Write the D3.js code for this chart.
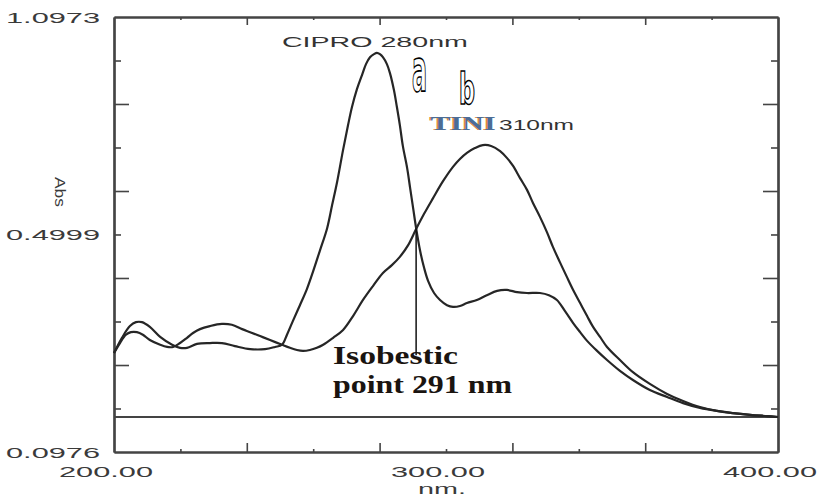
<!DOCTYPE html>
<html>
<head>
<meta charset="utf-8">
<script src="https://cdn.jsdelivr.net/npm/d3@7/dist/d3.min.js"></script>
<style>
	body { margin: 0; background: #fff; }
</style>
</head>
<body>
<div id="chart"></div>
<script>
// CIPRO spectrum (nm / Abs)
const ciproNm = [200.0, 202.4, 204.8, 206.6, 208.4, 210.8, 213.9, 217.5, 219.9, 222.0, 225.0, 228.9, 232.5, 236.4, 241.0, 245.5, 248.5, 250.6, 252.1, 253.9, 256.0, 258.1, 259.9, 262.0, 264.2, 265.7, 267.2, 269.0, 270.5, 271.7, 273.2, 274.7, 275.9, 277.1, 278.3, 279.2, 280.1, 281.0, 282.2, 283.1, 284.3, 285.2, 286.1, 287.0, 288.3, 289.2, 290.1, 291.0, 292.2, 293.4, 294.6, 296.4, 298.2, 300.3, 302.1, 304.2, 306.3, 309.3, 312.3, 315.4, 318.4, 321.4, 324.4, 328.3, 331.0, 333.4, 335.8, 338.3, 340.4, 342.5, 345.5, 348.5, 352.4, 356.3, 361.4, 366.6, 371.4, 376.5, 381.6, 386.4, 391.6, 396.7, 400.0];
const ciproAbs = [0.325, 0.360, 0.387, 0.396, 0.396, 0.385, 0.362, 0.344, 0.337, 0.337, 0.346, 0.348, 0.348, 0.341, 0.334, 0.334, 0.339, 0.344, 0.367, 0.399, 0.435, 0.472, 0.511, 0.560, 0.612, 0.665, 0.718, 0.792, 0.849, 0.891, 0.932, 0.964, 0.989, 1.005, 1.012, 1.015, 1.012, 1.005, 0.989, 0.969, 0.930, 0.891, 0.849, 0.801, 0.750, 0.704, 0.658, 0.612, 0.560, 0.521, 0.491, 0.463, 0.447, 0.435, 0.431, 0.433, 0.440, 0.447, 0.458, 0.468, 0.470, 0.465, 0.463, 0.463, 0.458, 0.447, 0.422, 0.394, 0.373, 0.353, 0.330, 0.309, 0.284, 0.263, 0.240, 0.224, 0.210, 0.199, 0.192, 0.187, 0.183, 0.180, 0.178];

// TINI spectrum (nm / Abs)
const tiniNm = [200.0, 201.8, 203.6, 205.1, 206.9, 208.7, 210.8, 213.9, 216.0, 217.8, 219.9, 222.0, 223.8, 225.9, 228.9, 232.5, 235.5, 238.6, 241.0, 244.0, 247.0, 250.6, 253.0, 255.1, 256.9, 259.0, 261.1, 263.0, 266.0, 269.0, 272.0, 275.0, 278.0, 281.0, 283.7, 286.1, 288.6, 291.0, 293.4, 296.1, 299.1, 302.1, 304.2, 306.3, 308.7, 311.1, 313.6, 316.3, 318.4, 320.2, 322.3, 324.4, 326.2, 328.3, 330.4, 332.2, 334.3, 336.4, 338.3, 340.4, 342.5, 344.3, 346.4, 348.5, 352.4, 356.3, 361.4, 366.6, 371.4, 376.5, 381.6, 386.4, 391.6, 396.7, 400.0];
const tiniAbs = [0.325, 0.348, 0.367, 0.373, 0.373, 0.367, 0.355, 0.344, 0.339, 0.339, 0.348, 0.360, 0.371, 0.380, 0.387, 0.392, 0.390, 0.380, 0.373, 0.364, 0.355, 0.344, 0.337, 0.332, 0.330, 0.332, 0.337, 0.344, 0.360, 0.378, 0.410, 0.447, 0.479, 0.509, 0.527, 0.546, 0.573, 0.610, 0.645, 0.681, 0.720, 0.753, 0.771, 0.785, 0.796, 0.803, 0.801, 0.789, 0.773, 0.755, 0.727, 0.700, 0.670, 0.638, 0.603, 0.569, 0.534, 0.500, 0.470, 0.440, 0.410, 0.385, 0.362, 0.339, 0.309, 0.281, 0.254, 0.231, 0.215, 0.201, 0.192, 0.187, 0.183, 0.180, 0.178];

// axis ranges and ticks
const xDomain = [200, 400];
const yDomain = [0.0976, 1.0973];
const xMajor = [240, 280, 320, 360];
const xMinor = [220, 260, 300, 340, 380];
const yMajor = [0.2975, 0.4975, 0.6974, 0.8974];
const yMinor = [0.1976, 0.3975, 0.5975, 0.7974, 0.9973];
const xLabelVals = [200, 300, 400];
const xLabelText = ["200.00", "300.00", "400.00"];
const yLabelVals = [1.0973, 0.5975, 0.0976];
const yLabelText = ["1.0973", "0.4999", "0.0976"];

// baseline + isobestic point
const baselineAbs = 0.178;
const isoNm = 291.0;
const isoAbs = [0.612, 0.320];

const margin = { top: 17, right: 43, bottom: 45, left: 114 };
const width = 821 - margin.left - margin.right;
const height = 497 - margin.top - margin.bottom;

const svg = d3
	.select("#chart")
	.append("svg")
	.attr("width", 821)
	.attr("height", 497)
	.append("g")
	.attr("transform", `translate(${margin.left},${margin.top})`);

const x = d3.scaleLinear().domain(xDomain).range([0, width]);
const y = d3.scaleLinear().domain(yDomain).range([height, 0]);

// frame + ticks
function styleAxis(g) {
	g.selectAll("path").attr("stroke", "#444").attr("stroke-width", 2.2);
	g.selectAll("line").attr("stroke", "#444").attr("stroke-width", 1.6);
	g.selectAll("text").remove();
}

const axes = [
	[d3.axisBottom, `translate(0,${height})`, xMajor, 9, x],
	[d3.axisBottom, `translate(0,${height})`, xMinor, 3, x],
	[d3.axisTop, "translate(0,0)", xMajor, 8, x],
	[d3.axisTop, "translate(0,0)", xMinor, 3, x],
	[d3.axisLeft, "translate(0,0)", yMajor, 15, y],
	[d3.axisLeft, "translate(0,0)", yMinor, 7, y],
	[d3.axisRight, `translate(${width},0)`, yMajor, 15, y],
	[d3.axisRight, `translate(${width},0)`, yMinor, 7, y]
];
axes.forEach(([fn, tr, vals, len, sc]) => {
	svg
		.append("g")
		.attr("transform", tr)
		.call(fn(sc).tickValues(vals).tickSizeInner(-len).tickSizeOuter(0))
		.call(styleAxis);
});

// baseline
svg
	.append("line")
	.attr("x1", x(xDomain[0]))
	.attr("x2", x(xDomain[1]))
	.attr("y1", y(baselineAbs))
	.attr("y2", y(baselineAbs))
	.attr("stroke", "#444")
	.attr("stroke-width", 2);

// spectra
const line = d3
	.line()
	.x(d => x(d[0]))
	.y(d => y(d[1]))
	.curve(d3.curveCatmullRom.alpha(0.5));

[[ciproNm, ciproAbs], [tiniNm, tiniAbs]].forEach(([nm, ab]) => {
	svg
		.append("path")
		.datum(nm.map((v, i) => [v, ab[i]]))
		.attr("fill", "none")
		.attr("stroke", "#262626")
		.attr("stroke-width", 2.2)
		.attr("d", line);
});

// isobestic marker
svg
	.append("line")
	.attr("x1", x(isoNm))
	.attr("x2", x(isoNm))
	.attr("y1", y(isoAbs[0]))
	.attr("y2", y(isoAbs[1]))
	.attr("stroke", "#111")
	.attr("stroke-width", 1.5);

// tick labels
const sans = "'Liberation Sans', Arial, sans-serif";
svg
	.selectAll(".ylab")
	.data(yLabelVals)
	.enter()
	.append("text")
	.attr("x", -14)
	.attr("y", d => y(d) + 6)
	.attr("text-anchor", "end")
	.attr("textLength", 94)
	.attr("lengthAdjust", "spacingAndGlyphs")
	.style("font-family", sans)
	.style("font-size", "14px")
	.style("fill", "#3a3a3a")
	.text((d, i) => yLabelText[i]);

svg
	.selectAll(".xlab")
	.data(xLabelVals)
	.enter()
	.append("text")
	.attr("x", d => x(d) - 8)
	.attr("y", height + 25)
	.attr("text-anchor", "middle")
	.attr("textLength", 94)
	.attr("lengthAdjust", "spacingAndGlyphs")
	.style("font-family", sans)
	.style("font-size", "14px")
	.style("fill", "#3a3a3a")
	.text((d, i) => xLabelText[i]);

// axis titles
svg
	.append("text")
	.attr("x", x(300) - 4)
	.attr("y", height + 42)
	.attr("text-anchor", "middle")
	.attr("textLength", 48)
	.attr("lengthAdjust", "spacingAndGlyphs")
	.style("font-family", sans)
	.style("font-size", "14px")
	.style("fill", "#3a3a3a")
	.text("nm.");

svg
	.append("text")
	.attr("transform", `translate(-54,${y(0.6954)}) rotate(90)`)
	.attr("text-anchor", "middle")
	.attr("dy", "0.35em")
	.attr("textLength", 30)
	.attr("lengthAdjust", "spacingAndGlyphs")
	.style("font-family", sans)
	.style("font-size", "15px")
	.style("fill", "#3a3a3a")
	.text("Abs");

// peak labels
svg
	.append("text")
	.attr("x", x(279.2) - 2)
	.attr("y", 30)
	.attr("text-anchor", "middle")
	.attr("textLength", 186)
	.attr("lengthAdjust", "spacingAndGlyphs")
	.style("font-family", sans)
	.style("font-size", "15px")
	.style("fill", "#333")
	.text("CIPRO 280nm");

const serif = "'Liberation Serif', 'Times New Roman', serif";
[["#e08a3c", -1], ["#4c6d96", 0.6]].forEach(([c, dx]) => {
	svg
		.append("text")
		.attr("x", 316 + dx)
		.attr("y", 113)
		.attr("textLength", 65)
		.attr("lengthAdjust", "spacingAndGlyphs")
		.style("font-family", serif)
		.style("font-weight", 700)
		.style("font-size", "18px")
		.style("fill", c)
		.text("TINI");
});

svg
	.append("text")
	.attr("x", 385)
	.attr("y", 113)
	.attr("textLength", 75)
	.attr("lengthAdjust", "spacingAndGlyphs")
	.style("font-family", sans)
	.style("font-size", "15px")
	.style("fill", "#333")
	.text("310nm");

// outlined series letters
const narrow = "'Liberation Sans Narrow', 'DejaVu Sans Condensed', sans-serif";
[["a", 298, 74, 58, 15], ["b", 345, 87, 42, 16]].forEach(([t, lx, ly, fs, tl]) => {
	svg
		.append("text")
		.attr("x", lx)
		.attr("y", ly)
		.attr("textLength", tl)
		.attr("lengthAdjust", "spacingAndGlyphs")
		.style("font-family", narrow)
		.style("font-weight", 700)
		.style("font-size", fs + "px")
		.style("fill", "#fff")
		.style("stroke", "#000")
		.style("stroke-width", 1.6)
		.text(t);
});

// isobestic annotation
["Isobestic", "point 291 nm"].forEach((t, i) => {
	svg
		.append("text")
		.attr("x", 219)
		.attr("y", 347 + i * 29)
		.attr("textLength", i ? 179 : 125)
		.attr("lengthAdjust", "spacingAndGlyphs")
		.style("font-family", serif)
		.style("font-weight", 700)
		.style("font-size", "26px")
		.style("fill", "#1a1410")
		.text(t);
});
</script>
</body>
</html>
